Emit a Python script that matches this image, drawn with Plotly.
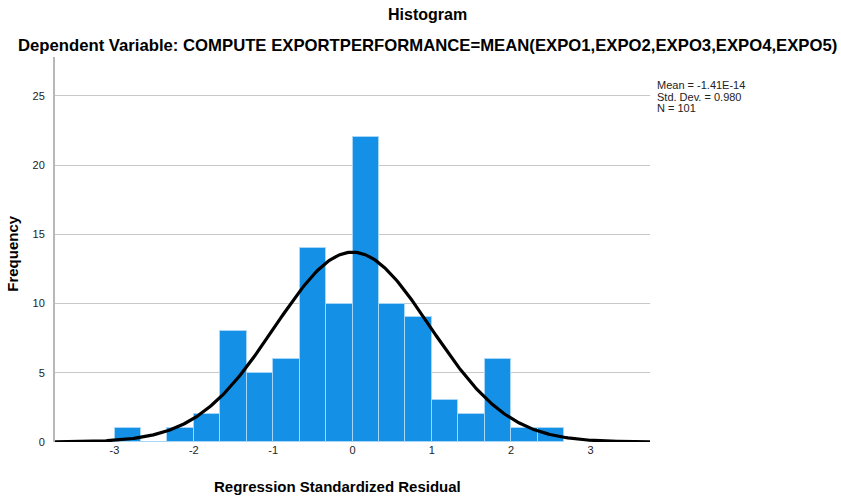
import numpy as np
import plotly.graph_objects as go

# Histogram bins (lower edges) and counts
bin_width = 1/3
bin_starts = [-3.0, -2.6667, -2.3333, -2.0, -1.6667, -1.3333, -1.0, -0.6667, -0.3333,
              0.0, 0.3333, 0.6667, 1.0, 1.3333, 1.6667, 2.0, 2.3333]
counts = [1, 0, 1, 2, 8, 5, 6, 14, 10, 22, 10, 9, 3, 2, 6, 1, 1]

mean_val = -1.41e-14
std_val = 0.980
n_val = 101

x_ticks = [-3, -2, -1, 0, 1, 2, 3]
y_ticks = [0, 5, 10, 15, 20, 25]

x_range = [-3.75, 3.75]
y_range = [0, 27.8]

centers = [s + bin_width / 2 for s in bin_starts]

# normal curve from the reported statistics
xc = np.linspace(x_range[0], x_range[1], 400)
yc = n_val * bin_width / (std_val * np.sqrt(2 * np.pi)) * np.exp(-0.5 * ((xc - mean_val) / std_val) ** 2)

fig = go.Figure()
fig.add_trace(go.Bar(
    x=centers, y=counts, width=bin_width,
    marker=dict(color="#1490E6", line=dict(color="#A8D6F7", width=1)),
    hoverinfo="x+y",
))
fig.add_trace(go.Scatter(
    x=xc, y=yc, mode="lines",
    line=dict(color="black", width=3.2), hoverinfo="skip",
))

L, R, T, B = 55, 650, 57, 442.5
W, H = 841, 499
pw, ph = R - L, B - T

def px(xp):
    return (xp - L) / pw

def py(yp):
    return (B - yp) / ph

font_family = "Liberation Sans, Arial, sans-serif"

fig.update_layout(
    width=W, height=H,
    margin=dict(l=L, r=W - R, t=T, b=H - B, pad=0),
    plot_bgcolor="white", paper_bgcolor="white",
    showlegend=False, bargap=0,
    font=dict(family=font_family, color="#222222", size=11),
    xaxis=dict(
        range=x_range, tickvals=x_ticks, ticktext=[str(v) for v in x_ticks],
        showgrid=False, zeroline=False, showline=False,
        ticks="", tickfont=dict(size=11, color="#222222"),
        fixedrange=True,
    ),
    yaxis=dict(
        range=y_range, tickvals=y_ticks, ticktext=[str(v) for v in y_ticks],
        showgrid=True, gridcolor="#C8C8C8", gridwidth=1.2,
        zeroline=False, showline=True, linecolor="#B8B8B8", linewidth=2,
        ticks="", ticklabelstandoff=6,
        tickfont=dict(size=11, color="#222222"),
        fixedrange=True,
    ),
)

annotations = [
    dict(text="<b>Histogram</b>", x=px(427), y=py(14), font=dict(size=16, color="black")),
    dict(text="<b>Dependent Variable: COMPUTE EXPORTPERFORMANCE=MEAN(EXPO1,EXPO2,EXPO3,EXPO4,EXPO5)</b>",
         x=px(427.5), y=py(45), font=dict(size=16.7, color="black")),
    dict(text="<b>Regression Standardized Residual</b>", x=px(337), y=py(487),
         font=dict(size=15, color="black")),
    dict(text="<b>Frequency</b>", x=px(13), y=py(254), textangle=-90,
         font=dict(size=15, color="black")),
    dict(text="Mean = -1.41E-14", x=px(655), y=py(85), xanchor="left", font=dict(size=11, color="#222222")),
    dict(text="Std. Dev. = 0.980", x=px(655), y=py(97), xanchor="left", font=dict(size=11, color="#222222")),
    dict(text="N = 101", x=px(655), y=py(108), xanchor="left", font=dict(size=11, color="#222222")),
]
for a in annotations:
    a.setdefault("xanchor", "center")
    a.update(xref="paper", yref="paper", yanchor="middle", showarrow=False)
fig.update_layout(annotations=annotations)

fig.write_html("out.html")
